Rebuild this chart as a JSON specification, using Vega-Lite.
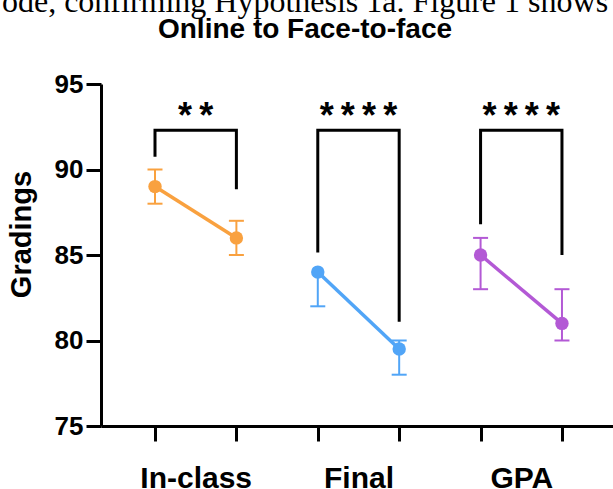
{
  "$schema": "https://vega.github.io/schema/vega-lite/v6.json",
  "width": 512,
  "height": 342,
  "autosize": {"type": "none"},
  "padding": {"left": 101, "top": 84, "right": 0, "bottom": 63},
  "background": "white",
  "title": {
    "text": "ode, confirming Hypothesis 1a. Figure 1 shows",
    "subtitle": "Online to Face-to-face",
    "anchor": "middle",
    "frame": "group",
    "dx": -52,
    "font": "Liberation Serif",
    "fontSize": 32,
    "fontWeight": "normal",
    "color": "black",
    "subtitleFont": "Liberation Sans",
    "subtitleFontSize": 28,
    "subtitleFontWeight": "bold",
    "subtitleColor": "black",
    "subtitlePadding": -3,
    "offset": 26
  },
  "config": {"view": {"stroke": null}, "axis": {"grid": false}},
  "datasets": {
    "means": [
      {"measure": "In-class", "mode": "Online", "x": 1, "grade": 89, "lo": 88, "hi": 90},
      {"measure": "In-class", "mode": "Face-to-face", "x": 2, "grade": 86, "lo": 85, "hi": 87},
      {"measure": "Final", "mode": "Online", "x": 3, "grade": 84, "lo": 82, "hi": 84},
      {"measure": "Final", "mode": "Face-to-face", "x": 4, "grade": 79.5, "lo": 78, "hi": 80},
      {"measure": "GPA", "mode": "Online", "x": 5, "grade": 85, "lo": 83, "hi": 86},
      {"measure": "GPA", "mode": "Face-to-face", "x": 6, "grade": 81, "lo": 80, "hi": 83}
    ],
    "caps": [
      {"measure": "In-class", "x": 1, "grade": 88},
      {"measure": "In-class", "x": 1, "grade": 90},
      {"measure": "In-class", "x": 2, "grade": 85},
      {"measure": "In-class", "x": 2, "grade": 87},
      {"measure": "Final", "x": 3, "grade": 82},
      {"measure": "Final", "x": 4, "grade": 78},
      {"measure": "Final", "x": 4, "grade": 80},
      {"measure": "GPA", "x": 5, "grade": 83},
      {"measure": "GPA", "x": 5, "grade": 86},
      {"measure": "GPA", "x": 6, "grade": 80},
      {"measure": "GPA", "x": 6, "grade": 83}
    ],
    "brackets": [
      {"pair": "In-class", "step": 0, "x": 1, "grade": 90.75},
      {"pair": "In-class", "step": 1, "x": 1, "grade": 92.3},
      {"pair": "In-class", "step": 2, "x": 2, "grade": 92.3},
      {"pair": "In-class", "step": 3, "x": 2, "grade": 88.85},
      {"pair": "Final", "step": 0, "x": 3, "grade": 85.15},
      {"pair": "Final", "step": 1, "x": 3, "grade": 92.3},
      {"pair": "Final", "step": 2, "x": 4, "grade": 92.3},
      {"pair": "Final", "step": 3, "x": 4, "grade": 81.1},
      {"pair": "GPA", "step": 0, "x": 5, "grade": 86.8},
      {"pair": "GPA", "step": 1, "x": 5, "grade": 92.3},
      {"pair": "GPA", "step": 2, "x": 6, "grade": 92.3},
      {"pair": "GPA", "step": 3, "x": 6, "grade": 85.0}
    ],
    "stars": [
      {"x": 1.5, "grade": 92.45, "label": "*\u2009*"},
      {"x": 3.5, "grade": 92.45, "label": "*\u2009*\u2009*\u2009*"},
      {"x": 5.5, "grade": 92.45, "label": "*\u2009*\u2009*\u2009*"}
    ]
  },
  "layer": [
    {
      "data": {"name": "brackets"},
      "mark": {"type": "line", "color": "black", "strokeWidth": 3, "strokeCap": "butt", "strokeJoin": "miter"},
      "encoding": {
        "x": {
          "field": "x", "type": "quantitative",
          "scale": {"domain": [0.3366, 6.627], "nice": false, "zero": false},
          "axis": {
            "values": [1, 1.5, 2, 3, 3.5, 4, 5, 5.5, 6],
            "labelExpr": "datum.value == 1.5 ? 'In-class' : datum.value == 3.5 ? 'Final' : datum.value == 5.5 ? 'GPA' : ''",
            "title": null,
            "domainColor": "black", "domainWidth": 3,
            "tickColor": "black", "tickWidth": 3, "tickSize": 15,
            "tickOpacity": {"condition": {"test": "datum.value % 1 != 0", "value": 0}, "value": 1},
            "labelFont": "Liberation Sans", "labelFontSize": 30, "labelFontWeight": "bold", "labelColor": "black",
            "labelPadding": 22, "labelFlush": false, "labelOverlap": false, "labelBound": false
          }
        },
        "y": {
          "field": "grade", "type": "quantitative",
          "scale": {"domain": [75, 95], "nice": false, "zero": false},
          "axis": {
            "values": [75, 80, 85, 90, 95],
            "title": "Gradings",
            "titleFont": "Liberation Sans", "titleFontSize": 29, "titleFontWeight": "bold", "titleColor": "black",
            "titlePadding": 18, "titleY": 150,
            "domainColor": "black", "domainWidth": 3,
            "tickColor": "black", "tickWidth": 3, "tickSize": 15,
            "labelFont": "Liberation Sans", "labelFontSize": 26, "labelFontWeight": "bold", "labelColor": "black",
            "labelPadding": 3
          }
        },
        "detail": {"field": "pair"},
        "order": {"field": "step"}
      }
    },
    {
      "data": {"name": "means"},
      "mark": {"type": "rule", "strokeWidth": 2},
      "encoding": {
        "x": {"field": "x", "type": "quantitative"},
        "y": {"field": "lo", "type": "quantitative"},
        "y2": {"field": "hi"},
        "color": {"field": "measure", "type": "nominal", "scale": {"domain": ["In-class", "Final", "GPA"], "range": ["#F9A13F", "#51A5F7", "#B359D5"]}, "legend": null}
      }
    },
    {
      "data": {"name": "caps"},
      "mark": {"type": "tick", "orient": "horizontal", "size": 15, "thickness": 2, "opacity": 1},
      "encoding": {
        "x": {"field": "x", "type": "quantitative"},
        "y": {"field": "grade", "type": "quantitative"},
        "color": {"field": "measure", "type": "nominal"}
      }
    },
    {
      "data": {"name": "means"},
      "mark": {"type": "line", "strokeWidth": 3.5},
      "encoding": {
        "x": {"field": "x", "type": "quantitative"},
        "y": {"field": "grade", "type": "quantitative"},
        "color": {"field": "measure", "type": "nominal"},
        "detail": {"field": "measure"}
      }
    },
    {
      "data": {"name": "means"},
      "mark": {"type": "point", "filled": true, "size": 180, "opacity": 1},
      "encoding": {
        "x": {"field": "x", "type": "quantitative"},
        "y": {"field": "grade", "type": "quantitative"},
        "color": {"field": "measure", "type": "nominal"}
      }
    },
    {
      "data": {"name": "stars"},
      "mark": {"type": "text", "font": "Liberation Sans", "fontSize": 36, "fontWeight": "bold", "color": "black", "baseline": "alphabetic", "align": "center"},
      "encoding": {
        "x": {"field": "x", "type": "quantitative"},
        "y": {"field": "grade", "type": "quantitative"},
        "text": {"field": "label"}
      }
    }
  ]
}
